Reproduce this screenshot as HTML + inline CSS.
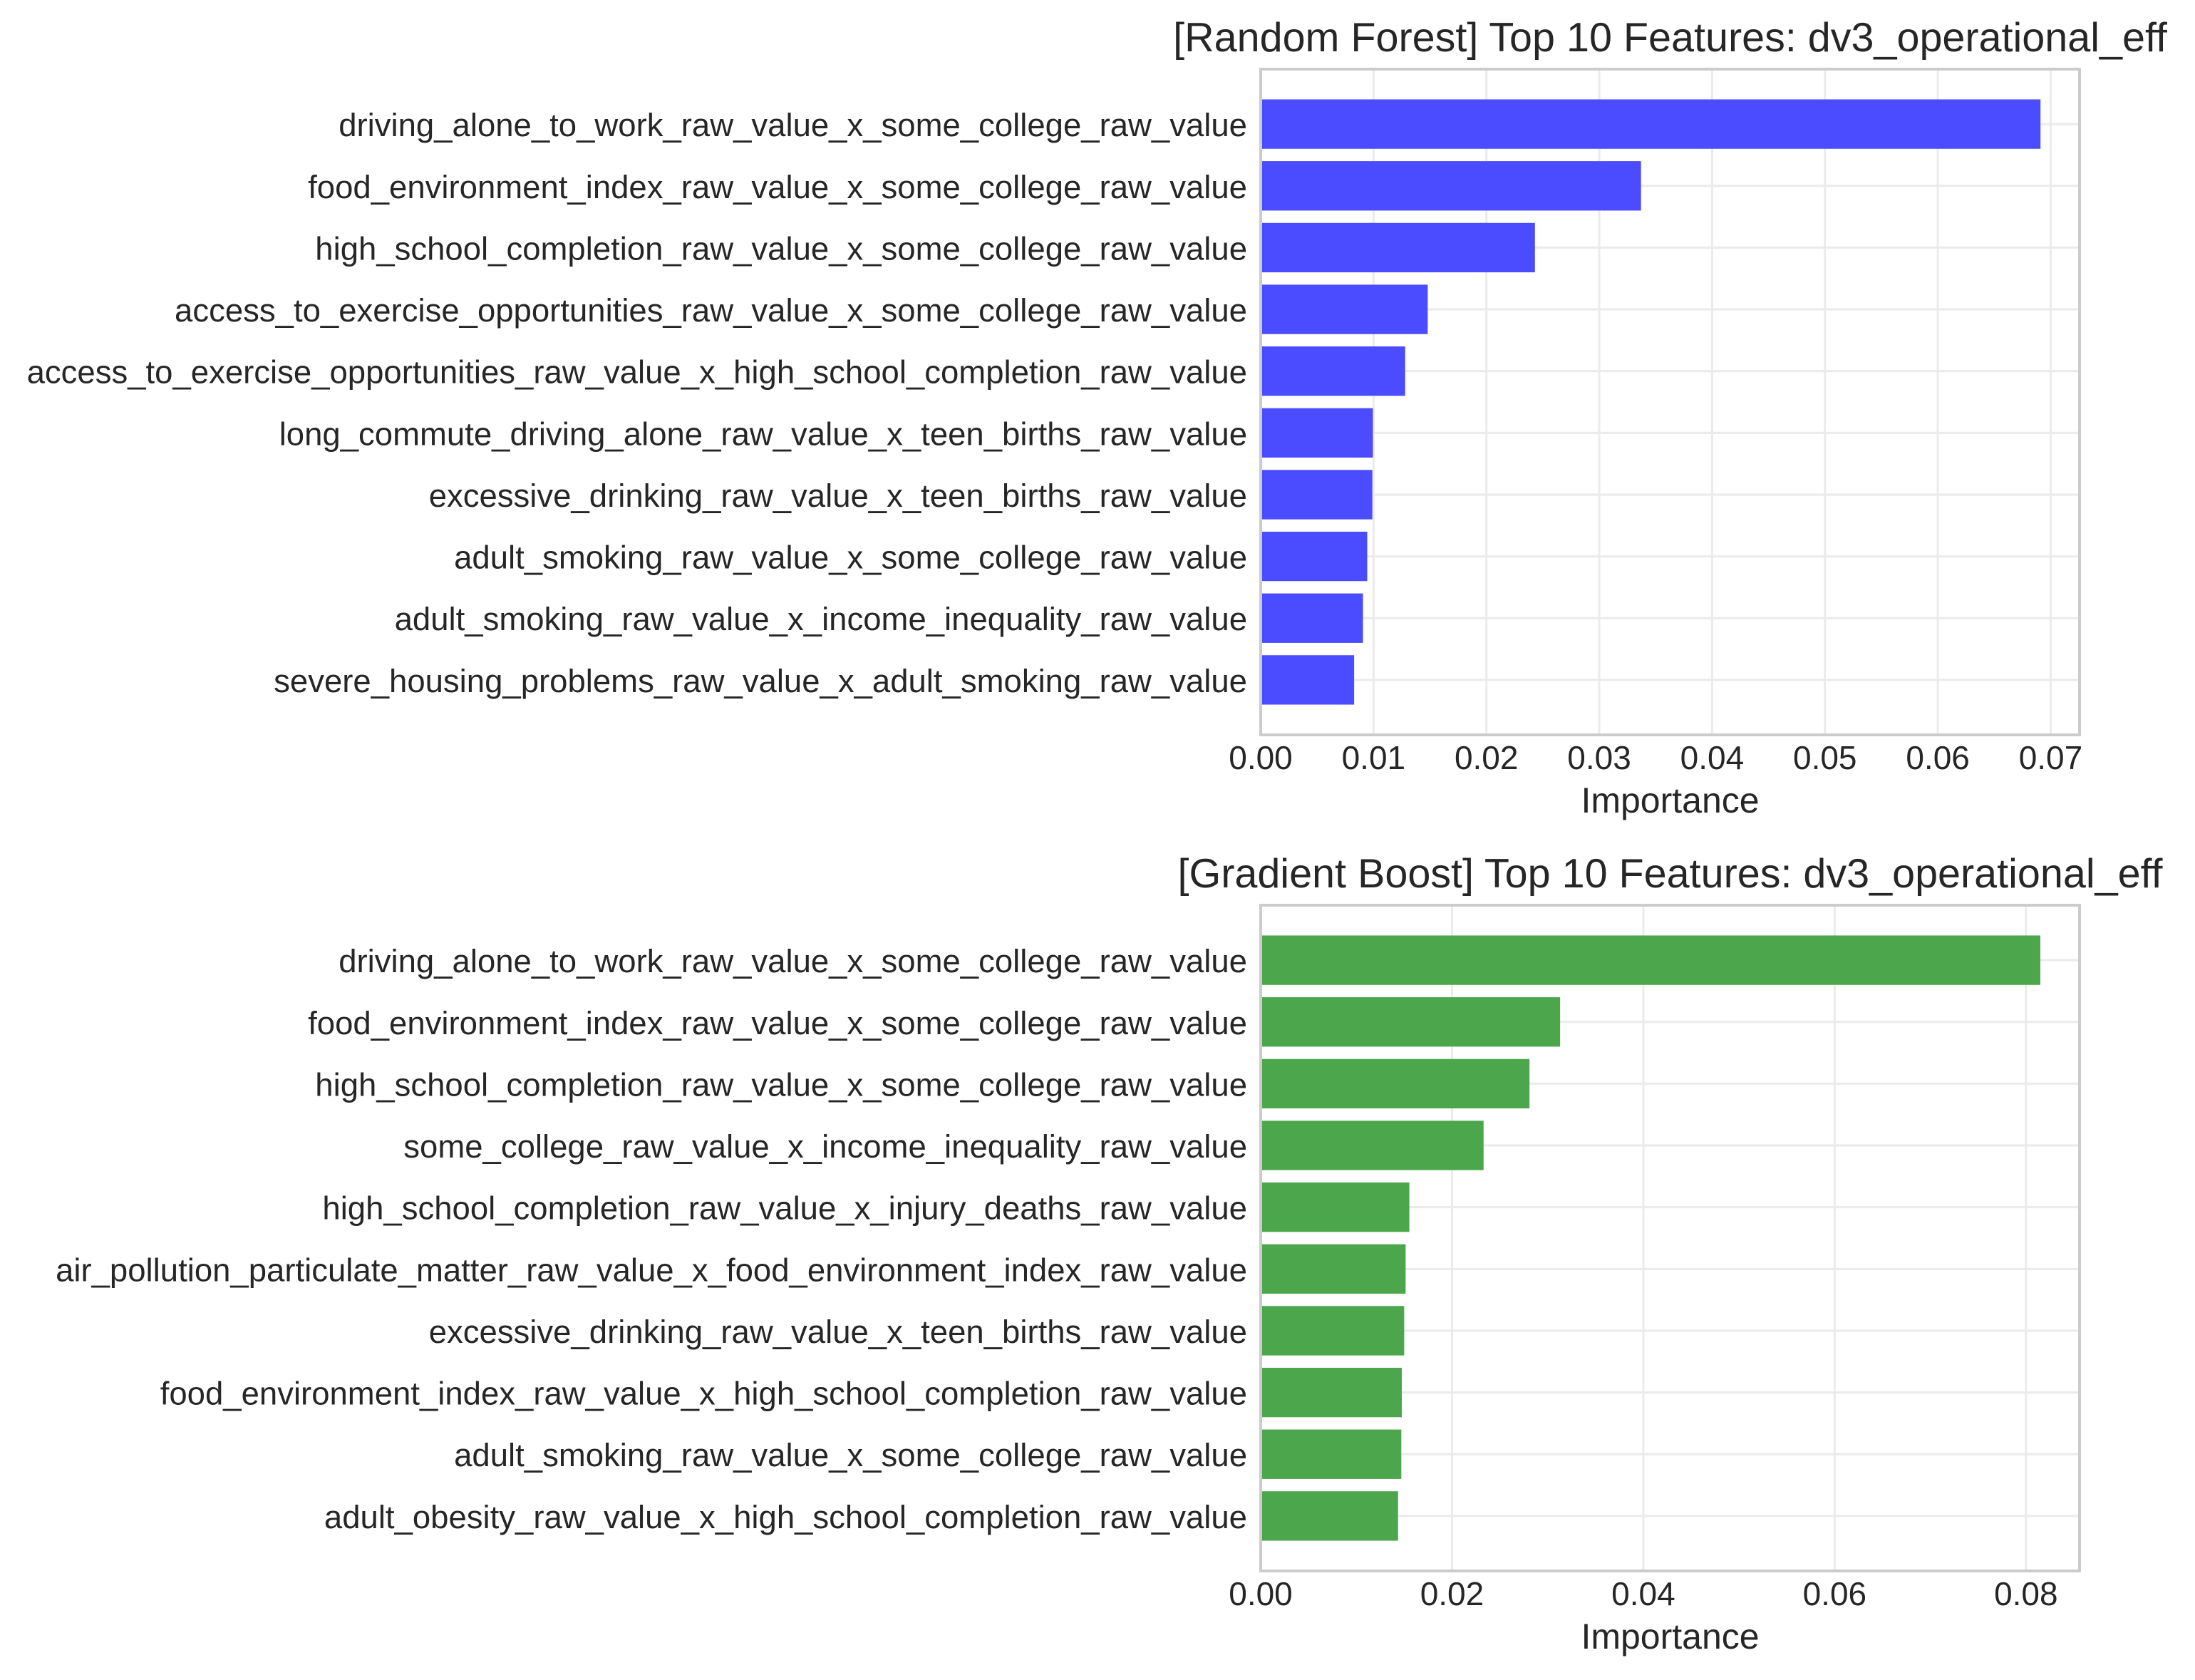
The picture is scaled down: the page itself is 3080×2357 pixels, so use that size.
<!DOCTYPE html>
<html><head><meta charset="utf-8"><style>
html,body{margin:0;padding:0;background:#fff}
svg text{font-family:"Liberation Sans",Arial,sans-serif;fill:#262626}
</style></head><body>
<svg id="fig" xmlns="http://www.w3.org/2000/svg" width="3080" height="2352" viewBox="0 0 3080 2352">
<rect x="0" y="0" width="3080" height="2352" fill="#fff"/>
</svg>
<script>
const rfFeatures = ["driving_alone_to_work_raw_value_x_some_college_raw_value","food_environment_index_raw_value_x_some_college_raw_value","high_school_completion_raw_value_x_some_college_raw_value","access_to_exercise_opportunities_raw_value_x_some_college_raw_value","access_to_exercise_opportunities_raw_value_x_high_school_completion_raw_value","long_commute_driving_alone_raw_value_x_teen_births_raw_value","excessive_drinking_raw_value_x_teen_births_raw_value","adult_smoking_raw_value_x_some_college_raw_value","adult_smoking_raw_value_x_income_inequality_raw_value","severe_housing_problems_raw_value_x_adult_smoking_raw_value"];
const rfValues = [0.0691,0.0337,0.0243,0.0148,0.0128,0.00994,0.00989,0.00944,0.00906,0.00828];
const rfTicks = ["0.00","0.01","0.02","0.03","0.04","0.05","0.06","0.07"];
const gbFeatures = ["driving_alone_to_work_raw_value_x_some_college_raw_value","food_environment_index_raw_value_x_some_college_raw_value","high_school_completion_raw_value_x_some_college_raw_value","some_college_raw_value_x_income_inequality_raw_value","high_school_completion_raw_value_x_injury_deaths_raw_value","air_pollution_particulate_matter_raw_value_x_food_environment_index_raw_value","excessive_drinking_raw_value_x_teen_births_raw_value","food_environment_index_raw_value_x_high_school_completion_raw_value","adult_smoking_raw_value_x_some_college_raw_value","adult_obesity_raw_value_x_high_school_completion_raw_value"];
const gbValues = [0.0815,0.0313,0.0281,0.0233,0.01554,0.01515,0.0150,0.01475,0.0147,0.01436];
const gbTicks = ["0.00","0.02","0.04","0.06","0.08"];

const NS="http://www.w3.org/2000/svg";
const svg=document.getElementById('fig');
function mk(tag,attrs,parent){const e=document.createElementNS(NS,tag);for(const k in attrs)e.setAttribute(k,attrs[k]);(parent||svg).appendChild(e);return e;}

function panel(prefix,title,features,values,ticks,xmax,color,offY){
  const L=1769,R=2918,T=97+offY,B=1031+offY;
  const n=features.length;
  const yMin=-0.89,yMax=n-1+0.89;
  const xs=v=>L+(v/xmax)*(R-L);
  const ys=i=>T+((i-yMin)/(yMax-yMin))*(B-T);
  const step=(B-T)/(yMax-yMin);
  const g=mk('g',{});
  
  
  mk('rect',{x:L,y:T,width:R-L,height:B-T,fill:'#fff'},g);
  ticks.forEach(t=>{const v=parseFloat(t);const x=xs(v);
    const gl=mk('line',{x1:x,x2:x,y1:T,y2:B,stroke:'#ebebeb','stroke-width':3},g);
    
    
  });
  for(let i=0;i<n;i++){const y=ys(i);
    const gl=mk('line',{x1:L,x2:R,y1:y,y2:y,stroke:'#ebebeb','stroke-width':3},g);
    
    
  }
  for(let i=0;i<n;i++){
    const y=ys(i),h=0.8*step;
    const b=mk('rect',{x:L,y:y-h/2,width:xs(values[i])-L,height:h,fill:color},g);
    
    
    const t=mk('text',{x:1750,y:y+17,'font-size':45.5,'text-anchor':'end'},g);
    t.textContent=features[i];
    
    
  }
  const fr=mk('rect',{x:L,y:T,width:R-L,height:B-T,fill:'none',stroke:'#cccccc','stroke-width':4},g);
  
  
  ticks.forEach(t=>{const v=parseFloat(t);
    const tx=mk('text',{x:xs(v),y:B+48,'font-size':46,'text-anchor':'middle'},g);
    tx.textContent=t;
    
    
  });
  const xl=mk('text',{x:(L+R)/2,y:1140+offY,'font-size':50,'text-anchor':'middle'},g);
  xl.textContent='Importance';
  
  
  const tt=mk('text',{x:(L+R)/2,y:72+offY,'font-size':57.5,'text-anchor':'middle'},g);
  tt.textContent=title;
  
  
}
panel('rf','[Random Forest] Top 10 Features: dv3_operational_eff',rfFeatures,rfValues,rfTicks,0.07256,'#4b4bff',0);
panel('gb','[Gradient Boost] Top 10 Features: dv3_operational_eff',gbFeatures,gbValues,gbTicks,0.0856,'#4ca64c',1173);
</script>
</body></html>
